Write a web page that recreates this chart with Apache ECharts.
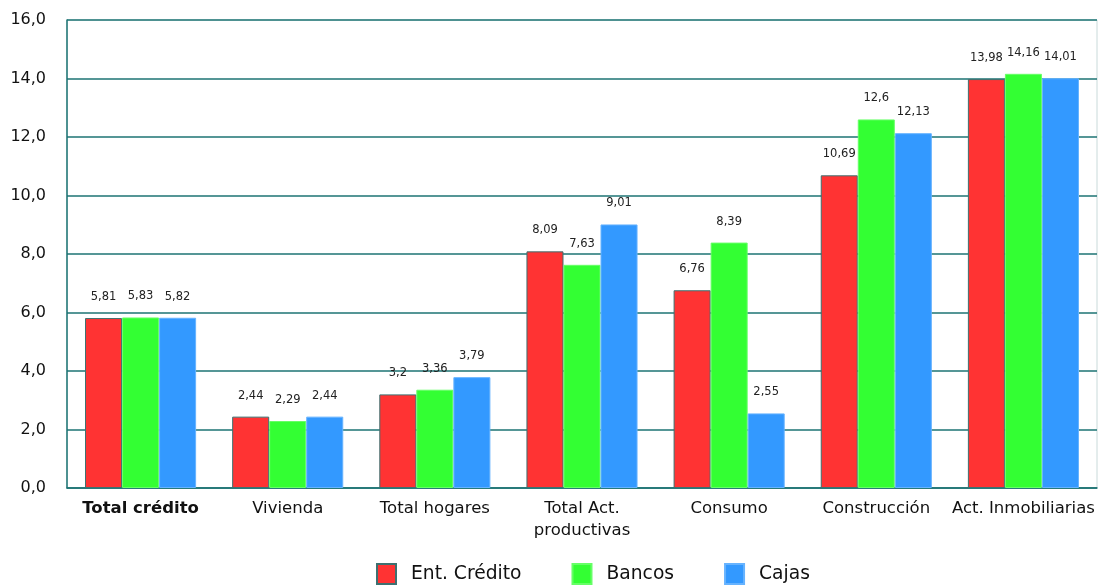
<!DOCTYPE html>
<html>
<head>
<meta charset="utf-8">
<script src="https://cdn.jsdelivr.net/npm/echarts@6/dist/echarts.min.js"></script>
<style>
  html, body { margin: 0; padding: 0; background: #fff; }
  #chart { width: 1098px; height: 586px; }
</style>
</head>
<body>
<div id="chart"></div>
<script>
// Categories of credit and rates per type of entity
const categories = ['Total crédito', 'Vivienda', 'Total hogares', 'Total Act.\nproductivas', 'Consumo', 'Construcción', 'Act. Inmobiliarias'];
const entCredito = [5.81, 2.44, 3.2, 8.09, 6.76, 10.69, 13.98];
const bancos = [5.83, 2.29, 3.36, 7.63, 8.39, 12.6, 14.16];
const cajas = [5.82, 2.44, 3.79, 9.01, 2.55, 12.13, 14.01];
const seriesNames = ['Ent. Crédito', 'Bancos', 'Cajas'];

const FONT = 'DejaVu Sans, Verdana, sans-serif';
const TEAL = '#1d7373';

const comma = v => String(v).replace('.', ',');

function barSeries(name, data, color, border) {
  return {
    name: name,
    type: 'bar',
    data: data,
    barGap: '0%',
    barCategoryGap: '24.5%',
    itemStyle: { color: color, borderColor: border, borderWidth: 1 },
    label: {
      show: true,
      position: 'top',
      distance: 15,
      fontFamily: FONT,
      fontSize: 11.5,
      color: '#222',
      formatter: p => comma(p.value)
    }
  };
}

const chart = echarts.init(document.getElementById('chart'), null, { renderer: 'canvas' });
chart.setOption({
  animation: false,
  backgroundColor: '#ffffff',
  // the right edge of the plot is only a faint line; top, left and bottom come from the axes
  grid: { left: 67, right: 1, top: 20, bottom: 98, show: true, borderColor: '#c9dada', borderWidth: 1, containLabel: false },
  legend: {
    top: 563,
    left: 376,
    padding: 0,
    itemWidth: 19,
    itemHeight: 20,
    itemGap: 50,
    icon: 'rect',
    textStyle: { fontFamily: FONT, fontSize: 18.7, color: '#111', padding: [0, 0, 0, 10] },
    data: seriesNames
  },
  xAxis: {
    type: 'category',
    data: categories,
    axisLine: { lineStyle: { color: TEAL, width: 1.5 } },
    axisTick: { show: false },
    axisLabel: {
      fontFamily: FONT,
      fontSize: 16.5,
      color: '#111',
      margin: 10,
      lineHeight: 22,
      interval: 0,
      formatter: (v, i) => i === 0 ? '{b|' + v + '}' : v,
      rich: { b: { fontFamily: FONT, fontSize: 16.5, fontWeight: 'bold', color: '#111' } }
    }
  },
  yAxis: {
    type: 'value',
    min: 0,
    max: 16,
    interval: 2,
    axisLine: { show: true, lineStyle: { color: TEAL, width: 1.5 } },
    axisTick: { show: false },
    splitLine: { lineStyle: { color: TEAL, width: 1.5 } },
    axisLabel: {
      fontFamily: FONT,
      fontSize: 16,
      color: '#111',
      margin: 21,
      formatter: v => v.toFixed(1).replace('.', ',')
    }
  },
  series: [
    barSeries(seriesNames[0], entCredito, '#ff3333', '#3d7070'),
    barSeries(seriesNames[1], bancos, '#33ff33', '#66ff66'),
    barSeries(seriesNames[2], cajas, '#3399ff', '#66b3ff')
  ]
});
</script>
</body>
</html>
